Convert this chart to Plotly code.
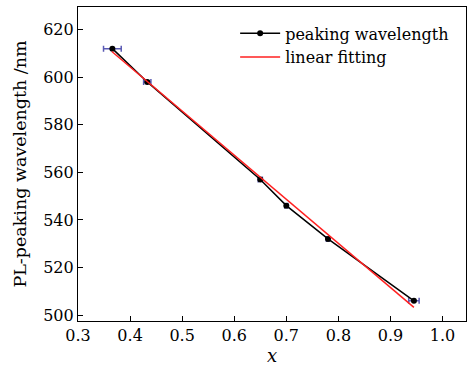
import plotly.graph_objects as go

x_vals = [0.366, 0.433, 0.650, 0.700, 0.780, 0.945]
y_vals = [612, 598, 557, 546, 532, 506]
x_err = [0.017, 0.007, 0.004, 0.003, 0.003, 0.010]
fit_x = [0.365, 0.945]
fit_y = [610.8, 503.2]
x_ticks = [0.3, 0.4, 0.5, 0.6, 0.7, 0.8, 0.9, 1.0]
y_ticks = [500, 520, 540, 560, 580, 600, 620]

font = "DejaVu Serif"
fig = go.Figure()
fig.add_trace(go.Scatter(
    x=x_vals, y=y_vals, mode="lines+markers", name="peaking wavelength",
    line=dict(color="black", width=1.5),
    marker=dict(color="black", size=6),
    error_x=dict(type="data", array=x_err, color="#5a5ab4", thickness=1.5, width=3),
))
fig.add_trace(go.Scatter(
    x=fit_x, y=fit_y, mode="lines", name="linear fitting",
    line=dict(color="#ff2020", width=1.5),
))
fig.update_layout(
    width=467, height=370,
    margin=dict(l=78, r=1, t=7, b=49),
    paper_bgcolor="white", plot_bgcolor="white",
    font=dict(family=font, size=16, color="black"),
    showlegend=True,
    legend=dict(x=0.405, y=0.97, xanchor="left", yanchor="top",
                bgcolor="rgba(0,0,0,0)", font=dict(size=16), tracegroupgap=0,
                itemwidth=40),
    xaxis=dict(range=[0.3, 1.045], tickvals=x_ticks, ticktext=[f"{v:.1f}" for v in x_ticks],
               ticks="inside", ticklen=5, tickcolor="black", showgrid=False, zeroline=False,
               showline=True, linecolor="black", linewidth=1.2, mirror=True,
               title=dict(text="<i>x</i>", standoff=4, font=dict(size=18))),
    yaxis=dict(range=[497.5, 629.5], tickvals=y_ticks,
               ticks="inside", ticklen=5, tickcolor="black", showgrid=False, zeroline=False,
               showline=True, linecolor="black", linewidth=1.2, mirror=True,
               title=dict(text="PL-peaking wavelength /nm", standoff=12, font=dict(size=17.5))),
)
fig.write_html("out.html")
